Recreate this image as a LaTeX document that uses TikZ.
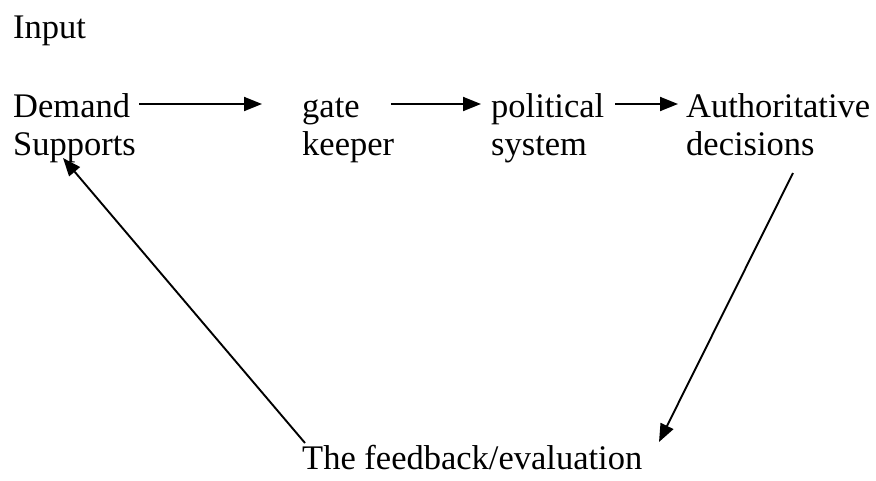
\documentclass[tikz,border=0pt]{standalone}
\usepackage{fontspec}
\setmainfont{Liberation Serif}
\usetikzlibrary{arrows.meta}
\begin{document}
\begin{tikzpicture}[x=1pt,y=-1pt,
  lbl/.style={anchor=base west,inner sep=0pt,font=\fontsize{34.5}{38}\selectfont},
  arr/.style={line width=1.9pt,-{Triangle[length=18pt,width=14pt]}}]
\useasboundingbox (0,0) rectangle (876,480);
\node[lbl] (input) at (13,38) {Input};
\node[lbl] (demand) at (13,117) {Demand};
\node[lbl] (supports) at (13,155) {Supports};
\node[lbl] (gate) at (302,117) {gate};
\node[lbl] (keeper) at (302,155) {keeper};
\node[lbl] (political) at (491,117) {political};
\node[lbl] (system) at (491,155) {system};
\node[lbl] (auth) at (686,117) {Authoritative};
\node[lbl] (decisions) at (686,155) {decisions};
\node[lbl] (feedback) at (302,469) {The feedback/evaluation};
\draw[arr] ([xshift=9pt,yshift=13pt]demand.base east) -- ([xshift=-40pt,yshift=13pt]gate.base west);
\draw[arr] ([xshift=31pt,yshift=13pt]gate.base east) -- ([xshift=-10pt,yshift=13pt]political.base west);
\draw[arr] ([xshift=11pt,yshift=13pt]political.base east) -- ([xshift=-8pt,yshift=13pt]auth.base west);
\draw[arr] ([xshift=107pt,yshift=-18pt]decisions.base west) -- ([xshift=357pt,yshift=27pt]feedback.base west);
\draw[arr] ([xshift=3pt,yshift=26pt]feedback.base west) -- ([xshift=50pt,yshift=-3pt]supports.base west);
\end{tikzpicture}
\end{document}
